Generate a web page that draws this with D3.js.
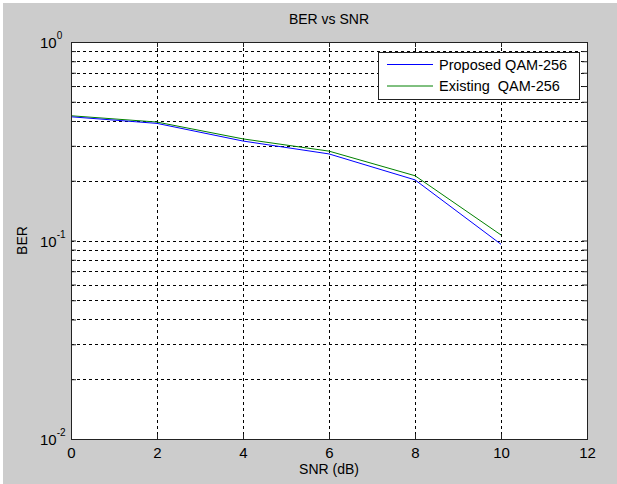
<!DOCTYPE html>
<html>
<head>
<meta charset="utf-8">
<script src="https://cdn.jsdelivr.net/npm/d3@7"></script>
<style>
  html, body { margin: 0; padding: 0; background: #fff; }
  svg { display: block; }
  text { font-family: Arial, "Liberation Sans", sans-serif; fill: #000; }
</style>
</head>
<body>
<div id="chart"></div>
<script>
/* ---------- data ---------- */
const snr = [0, 2, 4, 6, 8, 10];
const proposed = [0.420, 0.389, 0.317, 0.273, 0.202, 0.0957];
const existing = [0.425, 0.395, 0.325, 0.282, 0.212, 0.1066];
const seriesNames = ['Proposed QAM-256', 'Existing  QAM-256'];
const seriesColors = ['#0000ff', '#008000'];
const xTicks = [0, 2, 4, 6, 8, 10, 12];
const yExponents = [0, -1, -2];

/* ---------- layout ---------- */
const W = 617, H = 484;
const plot = { left: 71, top: 42, right: 587, bottom: 439 };

const svg = d3.select('#chart').append('svg')
  .attr('width', W)
  .attr('height', H);

// figure background (grey, small white strip top/left)
svg.append('rect')
  .attr('x', 3).attr('y', 3)
  .attr('width', W - 3).attr('height', H - 3)
  .attr('fill', '#cccccc');

const x = d3.scaleLinear().domain([0, 12]).range([plot.left, plot.right]);
const y = d3.scaleLog().domain([0.01, 1]).range([plot.bottom, plot.top]);

svg.append('rect')
  .attr('x', plot.left).attr('y', plot.top)
  .attr('width', plot.right - plot.left)
  .attr('height', plot.bottom - plot.top)
  .attr('fill', '#fff');

/* ---------- grid ---------- */
const minorY = [];
[-2, -1].forEach(e => {
  for (let k = 1; k <= 9; k++) minorY.push(k * Math.pow(10, e));
});
const gridY = minorY.filter(v => v > 0.01 + 1e-9);

const grid = svg.append('g')
  .attr('stroke', '#000')
  .attr('stroke-width', 1)
  .attr('stroke-dasharray', '3,3')
  .attr('shape-rendering', 'crispEdges');

grid.selectAll('.gy')
  .data(gridY)
  .enter().append('line')
  .attr('x1', plot.left).attr('x2', plot.right)
  .attr('y1', d => Math.round(y(d)) + 0.5)
  .attr('y2', d => Math.round(y(d)) + 0.5);

grid.selectAll('.gx')
  .data(xTicks.slice(1, -1))
  .enter().append('line')
  .attr('x1', d => Math.round(x(d)) + 0.5)
  .attr('x2', d => Math.round(x(d)) + 0.5)
  .attr('y1', plot.top).attr('y2', plot.bottom);

/* ---------- lines ---------- */
const line = d3.line()
  .x((d, i) => x(snr[i]))
  .y(d => y(d));

[existing, proposed].forEach((s, j) => {
  svg.append('path')
    .datum(s)
    .attr('fill', 'none')
    .attr('stroke', seriesColors[1 - j])
    .attr('stroke-width', 1)
    .attr('d', line);
});

/* ---------- axes ---------- */
const axisColor = '#222';
const tickLen = 5;

svg.append('rect')
  .attr('x', plot.left + 0.5).attr('y', plot.top + 0.5)
  .attr('width', plot.right - plot.left)
  .attr('height', plot.bottom - plot.top)
  .attr('fill', 'none')
  .attr('stroke', axisColor)
  .attr('stroke-width', 1)
  .attr('shape-rendering', 'crispEdges');

const xAxis = svg.append('g')
  .attr('transform', `translate(0,${plot.bottom})`)
  .call(d3.axisBottom(x).tickValues(xTicks).tickSize(-tickLen).tickPadding(8).tickFormat(d3.format('d')));
xAxis.select('.domain').remove();
xAxis.selectAll('line').attr('stroke', axisColor);
xAxis.selectAll('text')
  .attr('font-size', 15)
  .attr('font-family', 'Arial, "Liberation Sans", sans-serif')
  .attr('fill', '#000');

const xTop = svg.append('g')
  .attr('transform', `translate(0,${plot.top})`)
  .call(d3.axisTop(x).tickValues(xTicks).tickSize(-tickLen).tickFormat(''));
xTop.select('.domain').remove();
xTop.selectAll('line').attr('stroke', axisColor);

const yTickVals = minorY.concat([1]);
[d3.axisLeft, d3.axisRight].forEach((fn, i) => {
  const g = svg.append('g')
    .attr('transform', `translate(${i ? plot.right : plot.left},0)`)
    .call(fn(y).tickValues(yTickVals).tickSize(-tickLen).tickFormat(''));
  g.select('.domain').remove();
  g.selectAll('line').attr('stroke', axisColor);
});

// y tick labels: 10^e
const yLab = svg.append('g').selectAll('text')
  .data(yExponents)
  .enter().append('text')
  .attr('x', 40)
  .attr('y', d => y(Math.pow(10, d)) + 6)
  .attr('font-size', 15);
yLab.append('tspan').text('10');
yLab.append('tspan')
  .attr('font-size', 10)
  .attr('dy', -9)
  .text(d => d);

/* ---------- titles ---------- */
svg.append('text')
  .attr('x', (plot.left + plot.right) / 2)
  .attr('y', 24)
  .attr('text-anchor', 'middle')
  .attr('font-size', 14)
  .text('BER vs SNR');

svg.append('text')
  .attr('x', (plot.left + plot.right) / 2)
  .attr('y', 474)
  .attr('text-anchor', 'middle')
  .attr('font-size', 14)
  .text('SNR (dB)');

svg.append('text')
  .attr('transform', `translate(27,${y(0.1)}) rotate(-90)`)
  .attr('text-anchor', 'middle')
  .attr('font-size', 14)
  .text('BER');

/* ---------- legend ---------- */
const legend = svg.append('g');
legend.append('rect')
  .attr('x', 378.5).attr('y', 52.5)
  .attr('width', 201).attr('height', 47)
  .attr('fill', '#fff')
  .attr('stroke', axisColor)
  .attr('stroke-width', 1);

const rows = legend.selectAll('.row')
  .data(seriesNames)
  .enter().append('g')
  .attr('transform', (d, i) => `translate(0,${64.5 + i * 21.5})`);
rows.append('line')
  .attr('x1', 387).attr('x2', 433)
  .attr('stroke', (d, i) => seriesColors[i])
  .attr('stroke-width', 1);
rows.append('text')
  .attr('x', 439)
  .attr('y', 5)
  .attr('font-size', 14.5)
  .attr('xml:space', 'preserve')
  .style('white-space', 'pre')
  .text(d => d);
</script>
</body>
</html>
